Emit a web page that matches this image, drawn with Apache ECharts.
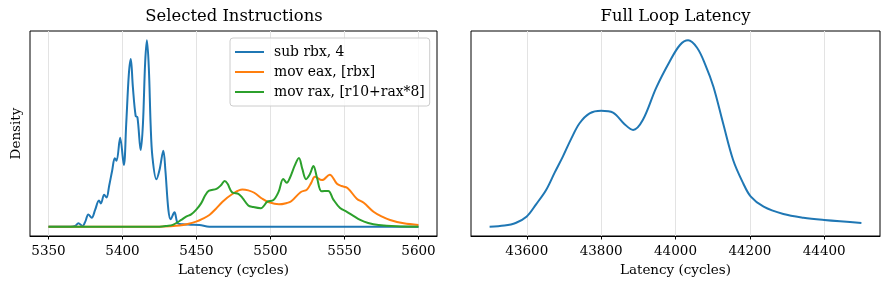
<!DOCTYPE html>
<html>
<head>
<meta charset="utf-8">
<script src="https://cdn.jsdelivr.net/npm/echarts@6/dist/echarts.min.js"></script>
<style>
html,body{margin:0;padding:0;background:#fff;}
#chart{width:889px;height:290px;}
</style>
</head>
<body>
<div id="chart"></div>
<script>
// ---- data ----
const leftTicks = [5350, 5400, 5450, 5500, 5550, 5600];
const rightTicks = [43600, 43800, 44000, 44200, 44400];
const seriesNames = ['sub rbx, 4', 'mov eax, [rbx]', 'mov rax, [r10+rax*8]'];

const subRbx = [
  [5350,0],[5365,0],[5368,0.004],[5370.2,0.018],[5373,0.004],[5375,0.03],[5376.9,0.066],
  [5379.2,0.048],[5381.5,0.09],[5384.1,0.14],[5385.4,0.125],[5387.6,0.172],[5389.2,0.156],
  [5391,0.22],[5393,0.3],[5394.8,0.367],[5396,0.354],[5398.4,0.477],[5400.9,0.331],
  [5402.5,0.55],[5404.3,0.82],[5405.6,0.90],[5407,0.75],[5408.9,0.594],[5410.1,0.587],
  [5412.3,0.411],[5413.8,0.55],[5415.3,0.88],[5416.5,1.0],[5417.8,0.85],[5419,0.55],
  [5420.2,0.376],[5422.9,0.254],[5425,0.304],[5427.6,0.408],[5429,0.3],[5431,0.09],
  [5432.5,0.04],[5435.1,0.077],[5437.4,0.018],[5440.7,0.013],[5446,0.011],[5452,0.009],
  [5458.7,0],[5600,0]
];
const movEax = [
  [5350,0],[5425,0],[5432,0.002],[5438.5,0.006],[5444,0.014],[5449.7,0.027],[5454,0.042],
  [5458.7,0.063],[5463,0.095],[5467.6,0.134],[5474,0.174],[5481,0.2],[5485,0.195],
  [5489,0.182],[5494.5,0.15],[5499,0.131],[5505.7,0.12],[5511,0.127],[5514,0.136],
  [5520.3,0.185],[5524.7,0.2],[5527.5,0.235],[5530,0.268],[5534.8,0.25],[5540,0.279],
  [5544.9,0.23],[5548,0.218],[5552,0.208],[5558.3,0.15],[5563,0.128],[5569.6,0.08],
  [5575,0.055],[5580.8,0.036],[5590,0.018],[5600,0.009]
];
const movRax = [
  [5350,0],[5425,0],[5430,0.004],[5434,0.01],[5439.7,0.036],[5443,0.054],[5446.4,0.066],
  [5449.7,0.09],[5453.1,0.125],[5456,0.17],[5458.5,0.193],[5463.5,0.203],[5466.5,0.222],
  [5469,0.245],[5471,0.23],[5474,0.185],[5478.5,0.175],[5481,0.155],[5485,0.114],
  [5488,0.106],[5493.4,0.099],[5497.9,0.134],[5502,0.143],[5505.5,0.188],[5508.6,0.256],
  [5511,0.236],[5513,0.26],[5516.5,0.33],[5519.2,0.368],[5521.5,0.31],[5524,0.255],
  [5526.5,0.28],[5529,0.325],[5531.5,0.26],[5534.5,0.19],[5539,0.192],[5542.5,0.145],
  [5547,0.1],[5551.6,0.08],[5556,0.058],[5560.6,0.036],[5566,0.02],[5573,0.009],
  [5585,0.002],[5600,0]
];
const fullLoop = [
  [43500,0],[43540,0.006],[43570,0.02],[43600,0.055],[43625,0.12],[43652,0.197],
  [43675,0.29],[43697,0.376],[43720,0.474],[43742,0.555],[43769,0.608],[43800,0.622],
  [43832,0.612],[43863,0.55],[43886,0.519],[43912,0.572],[43948,0.745],[43984,0.885],
  [44012,0.975],[44034,1.0],[44058,0.96],[44080,0.87],[44102,0.751],[44128,0.555],
  [44155,0.358],[44182,0.233],[44202,0.163],[44237,0.107],[44290,0.068],[44344,0.048],
  [44400,0.036],[44500,0.02]
];

const FONT = '"DejaVu Serif", serif';
const colors = ['#1f77b4', '#ff7f0e', '#2ca02c'];
const TICK_FS = 13.5, LEGEND_FS = 13.9, TITLE_FS = 16.4;

function xAxisFor(idx, min, max, ticks) {
  return {
    type: 'value', gridIndex: idx, min: min, max: max,
    name: 'Latency (cycles)', nameLocation: 'middle', nameGap: 27,
    nameTextStyle: {fontFamily: FONT, fontSize: TICK_FS, color: '#000'},
    axisLine: {show: true, onZero: false, lineStyle: {color: '#000', width: 1}},
    axisTick: {show: true, length: 3.5, inside: false, customValues: ticks, lineStyle: {color: '#000', width: 1}},
    axisLabel: {customValues: ticks, fontFamily: FONT, fontSize: TICK_FS, color: '#000', margin: 8,
                formatter: function (v) { return String(v); }},
    splitLine: {show: true, lineStyle: {color: '#e3e3e3', width: 1}}
  };
}
function yAxisFor(idx, named) {
  const a = {
    type: 'value', gridIndex: idx, min: -0.05, max: 1.05,
    axisLine: {show: false, onZero: false}, axisTick: {show: false}, axisLabel: {show: false},
    splitLine: {show: false}
  };
  if (named) {
    a.name = 'Density'; a.nameLocation = 'middle'; a.nameGap = 7; a.nameRotate = 90;
    a.nameTextStyle = {fontFamily: FONT, fontSize: TICK_FS, color: '#000'};
  }
  return a;
}
function lineSeries(name, data, color, xi) {
  return {
    type: 'line', name: name, data: data, xAxisIndex: xi, yAxisIndex: xi,
    showSymbol: false, symbol: 'none', smooth: 0.35,
    lineStyle: {color: color, width: 2}, itemStyle: {color: color},
    animation: false
  };
}

const chart = echarts.init(document.getElementById('chart'), null, {renderer: 'canvas'});
chart.setOption({
  backgroundColor: '#fff',
  animation: false,
  title: [
    {text: 'Selected Instructions', left: 229, top: 4, textAlign: 'center',
     textStyle: {fontFamily: FONT, fontSize: TITLE_FS, fontWeight: 'normal', color: '#000'}},
    {text: 'Full Loop Latency', left: 670.5, top: 4, textAlign: 'center',
     textStyle: {fontFamily: FONT, fontSize: TITLE_FS, fontWeight: 'normal', color: '#000'}}
  ],
  legend: {
    data: seriesNames, orient: 'vertical', left: 230, top: 38,
    icon: 'rect', itemWidth: 29, itemHeight: 2, itemGap: 4,
    padding: [6, 5, 6, 5],
    backgroundColor: 'rgba(255,255,255,0.8)', borderColor: '#cccccc', borderWidth: 1, borderRadius: 3,
    textStyle: {fontFamily: FONT, fontSize: LEGEND_FS, color: '#000', lineHeight: 16, padding: [0, 0, 0, 5]}
  },
  grid: [
    {left: 30, top: 31, width: 407, height: 205, show: true, borderColor: '#000', borderWidth: 1, outerBoundsMode: 'none', containLabel: false},
    {left: 471, top: 31, width: 409, height: 205, show: true, borderColor: '#000', borderWidth: 1, outerBoundsMode: 'none', containLabel: false}
  ],
  xAxis: [xAxisFor(0, 5337.5, 5612.5, leftTicks), xAxisFor(1, 43450, 44550, rightTicks)],
  yAxis: [yAxisFor(0, true), yAxisFor(1, false)],
  series: [
    lineSeries(seriesNames[0], subRbx, colors[0], 0),
    lineSeries(seriesNames[1], movEax, colors[1], 0),
    lineSeries(seriesNames[2], movRax, colors[2], 0),
    lineSeries('Full Loop', fullLoop, colors[0], 1)
  ]
});
</script>
</body>
</html>
